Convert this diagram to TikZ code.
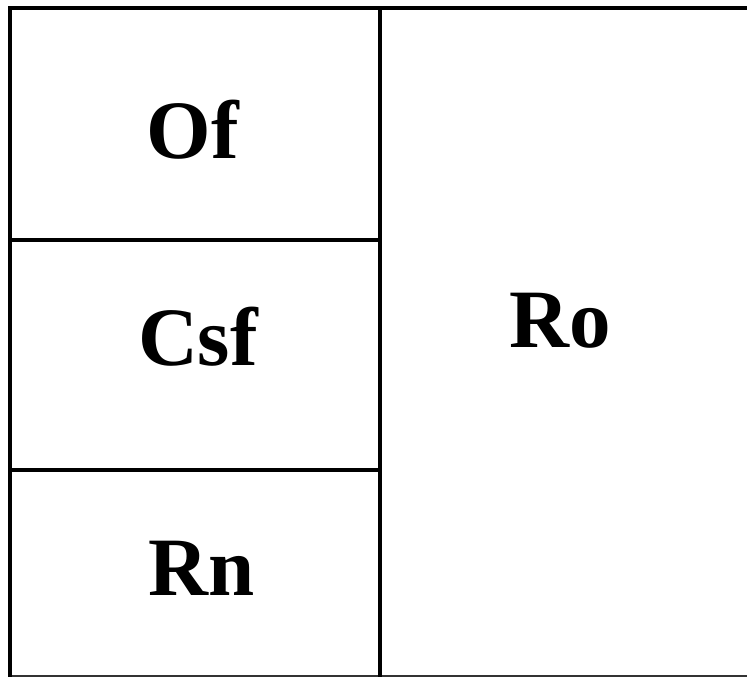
\documentclass[tikz,border=0pt]{standalone}
\usepackage{fontspec}
\setmainfont{Liberation Serif}
\begin{document}
\begin{tikzpicture}[x=1pt,y=-1pt,
  thickline/.style={line width=4.5pt,black},
  thinline/.style={line width=1.5pt,black!80},
  lab/.style={font=\fontsize{83}{90}\selectfont\bfseries,anchor=base,inner sep=0pt}]
\useasboundingbox (0,0) rectangle (747,677);
\coordinate (tl) at (10,8);
\coordinate (tr) at (760,8);
\coordinate (bl) at (10,690);
\coordinate (mt) at (380,8);
\coordinate (mb) at (380,690);
\coordinate (h1l) at (10,240);
\coordinate (h1r) at (380,240);
\coordinate (h2l) at (10,470);
\coordinate (h2r) at (380,470);
\coordinate (bbl) at (10,676);
\coordinate (bbr) at (760,676);
\draw[thinline] (bbl) -- (bbr);
\draw[thickline] (bl) -- (tl) -- (tr);
\draw[thickline] (mt) -- (mb);
\draw[thickline] (h1l) -- (h1r);
\draw[thickline] (h2l) -- (h2r);
\node[lab] (of) at (193,158) {Of};
\node[lab] (csf) at (198,365) {Csf};
\node[lab] (rn) at (202,595) {Rn};
\node[lab] (ro) at (560,347) {Ro};
\end{tikzpicture}
\end{document}
